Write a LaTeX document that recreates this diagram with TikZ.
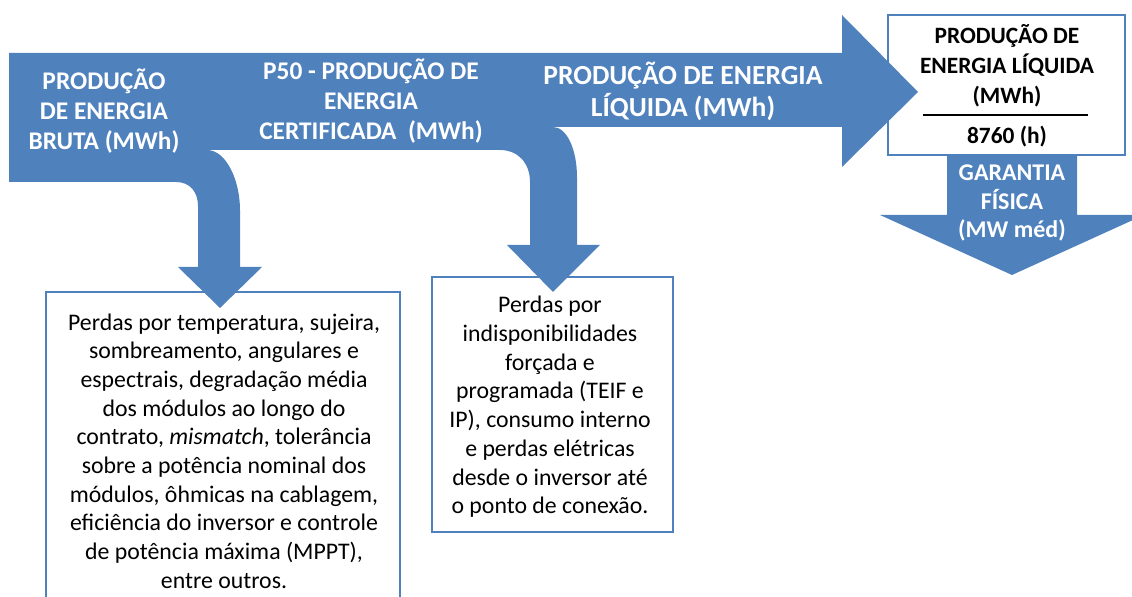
\documentclass[tikz,border=0pt]{standalone}
\usepackage{fontspec}
\setmainfont{Carlito}
\definecolor{ofblue}{HTML}{4F81BD}
\begin{document}
\begin{tikzpicture}[x=0.5pt,y=-0.5pt,
  band/.style={fill=ofblue,draw=none},
  bandtext/.style={text=white,font=\bfseries\fontsize{12.7}{14.9}\selectfont,align=center,inner sep=0pt},
  bigbandtext/.style={text=white,font=\bfseries\fontsize{13.8}{16}\selectfont,align=center,inner sep=0pt},
  gftext/.style={text=white,font=\bfseries\fontsize{12}{14.25}\selectfont,align=center,inner sep=0pt},
  lossbox/.style={draw=ofblue,line width=1.25pt,fill=white},
  losstext/.style={text=black,font=\fontsize{11.9}{14.35}\selectfont,align=center,inner sep=0pt},
  restext/.style={text=black,font=\bfseries\fontsize{11.7}{15}\selectfont,align=center,inner sep=0pt},
  fracrule/.style={draw=black,line width=1pt}]
\useasboundingbox (0,0) rectangle (1132,597);
\clip (0,0) rectangle (1132,597);
% boxes
\draw[lossbox] (46,292) rectangle (400,620);
\draw[lossbox] (432,277) rectangle (673,532);
\draw[lossbox] (888,15) rectangle (1125,155);
% main band with bent arrows
\path[band] (9,53) -- (842,53) -- (842,15) -- (918,92) -- (842,167) -- (842,127) -- (553,127)
  .. controls (567,127) and (577,150) .. (577,177) -- (577,245) -- (600,245) -- (553,292) -- (507,245) -- (530,245) -- (530,182)
  .. controls (530,163) and (518,150) .. (500,150) -- (207,150)
  .. controls (226,150) and (240,180) .. (240,210) -- (240,267) -- (262,267) -- (220,308) -- (178,267) -- (198,267) -- (198,206)
  .. controls (198,192) and (190,182) .. (176,182) -- (9,182) -- cycle;
% down arrow
\path[band] (947,155) -- (1077,155) -- (1077,215) -- (1144,215) -- (1012,275) -- (880,215) -- (947,215) -- cycle;
% labels
\node[bandtext] (bruta) at (104,111) {PRODUÇÃO\\DE ENERGIA\\BRUTA (MWh)};
\node[bandtext] (cert) at (371,101) {P50 - PRODUÇÃO DE\\ENERGIA\\CERTIFICADA~ (MWh)};
\node[bigbandtext] (liq) at (683,91) {PRODUÇÃO DE ENERGIA\\LÍQUIDA (MWh)};
\node[restext] (num) at (1007,66) {PRODUÇÃO DE\\ENERGIA LÍQUIDA\\(MWh)};
\node[restext] (den) at (1007,137) {8760 (h)};
\coordinate (rl) at (923,115);
\coordinate (rr) at (1088,115);
\draw[fracrule] (rl) -- (rr);
\node[gftext] (gf) at (1012,203) {GARANTIA\\FÍSICA\\(MW méd)};
\node[losstext] (perdas1) at (224,451) {Perdas por temperatura, sujeira,\\sombreamento, angulares e\\espectrais, degradação média\\dos módulos ao longo do\\contrato, \textit{mismatch}, tolerância\\sobre a potência nominal dos\\módulos, ôhmicas na cablagem,\\eficiência do inversor e controle\\de potência máxima (MPPT),\\entre outros.};
\node[losstext] (perdas2) at (550,407) {Perdas por\\indisponibilidades\\forçada e\\programada (TEIF e\\IP), consumo interno\\e perdas elétricas\\desde o inversor até\\o ponto de conexão.};
\end{tikzpicture}
\end{document}
